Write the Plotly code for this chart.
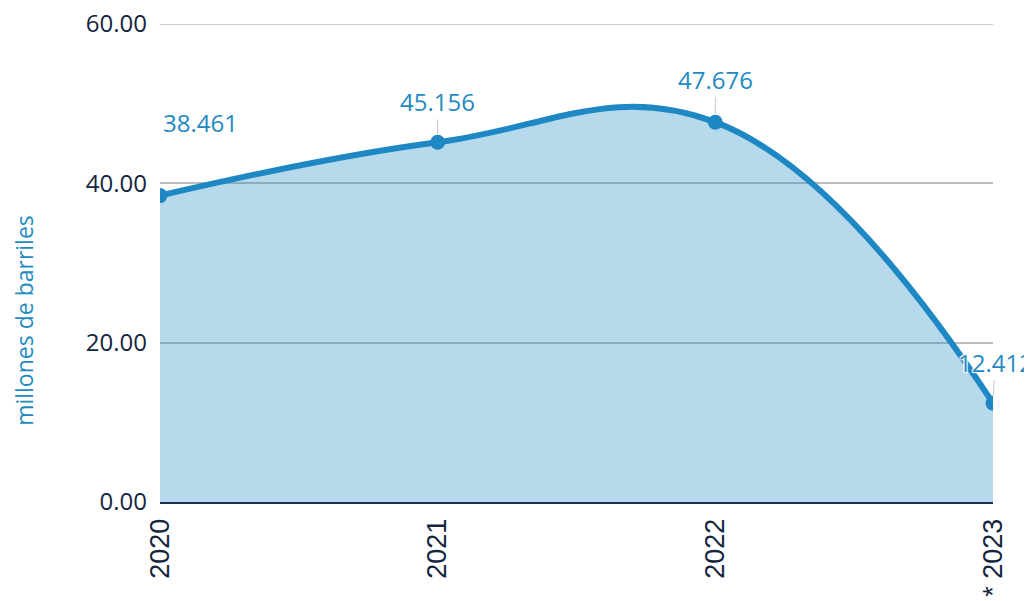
import plotly.graph_objects as go

years = [2020, 2021, 2022, 2023]
tick_labels = ["2020", "2021", "2022", "* 2023"]
values = [38.461, 45.156, 47.676, 12.412]
value_labels = ["38.461", "45.156", "47.676", "12.412"]
y_ticks = [0, 20, 40, 60]

line_color = "#1e88c4"
navy = "#14253f"
grid_color = "#bdbdbd"
label_font = "Open Sans, Noto Sans, sans-serif"
halo = "1px 1px 1px #fff, -1px -1px 1px #fff, 1px -1px 1px #fff, -1px 1px 1px #fff"

fig = go.Figure()
fig.add_trace(go.Scatter(
    x=years, y=values, mode="lines+markers",
    line=dict(color=line_color, width=6, shape="spline", smoothing=1.2),
    marker=dict(size=15, color=line_color),
    fill="tozeroy", fillcolor="rgba(30,136,196,0.32)",
    hoverinfo="skip", showlegend=False,
))

offsets = [(40, -73, False), (0, -41, True), (0, -43, True), (2, -41, True)]
for x, y, lab, (ax, ay, arr) in zip(years, values, value_labels, offsets):
    fig.add_annotation(
        x=x, y=y, text=lab, showarrow=True, ax=ax, ay=ay,
        arrowhead=0, arrowwidth=1,
        arrowcolor="#c8c8c8" if arr else "rgba(0,0,0,0)",
        standoff=8,
        font=dict(family=label_font, size=24, color="#2389c2", shadow=halo),
    )

# y-axis title (placed below centre as in the reference)
fig.add_annotation(
    xref="paper", yref="paper", x=0, y=0.379, xshift=-136,
    xanchor="center", yanchor="middle", showarrow=False, textangle=-90,
    text="millones de barriles",
    font=dict(family=label_font, size=23, color="#1f8bc0"),
)

# top gridline (plotly drops gridlines lying on the plot edge)
fig.add_shape(type="line", xref="paper", yref="y", x0=0, x1=1,
              y0=y_ticks[-1], y1=y_ticks[-1], layer="below",
              line=dict(color=grid_color, width=1.5))

fig.update_layout(
    width=1032, height=601,
    margin=dict(l=152, r=47, t=16, b=107, autoexpand=False),
    paper_bgcolor="white", plot_bgcolor="white",
    font=dict(family=label_font, color=navy),
    xaxis=dict(
        range=[2020, 2023], tickvals=years, ticktext=tick_labels,
        tickangle=-90, automargin=False,
        tickfont=dict(family="Liberation Sans, Arial, sans-serif", size=27, color=navy),
        showgrid=False, zeroline=False, showline=True,
        linecolor="#1c3350", linewidth=2, ticks="", ticklabelstandoff=4,
        ticklabeloverflow="allow",
    ),
    yaxis=dict(
        range=[0, 60], tickvals=y_ticks, tickformat=".2f", automargin=False,
        tickfont=dict(family=label_font, size=24, color=navy),
        showgrid=True, gridcolor=grid_color, gridwidth=1.5,
        zeroline=False, showline=False, ticks="", ticklabelstandoff=12,
        ticklabeloverflow="allow",
    ),
)

fig.write_html("out.html")
